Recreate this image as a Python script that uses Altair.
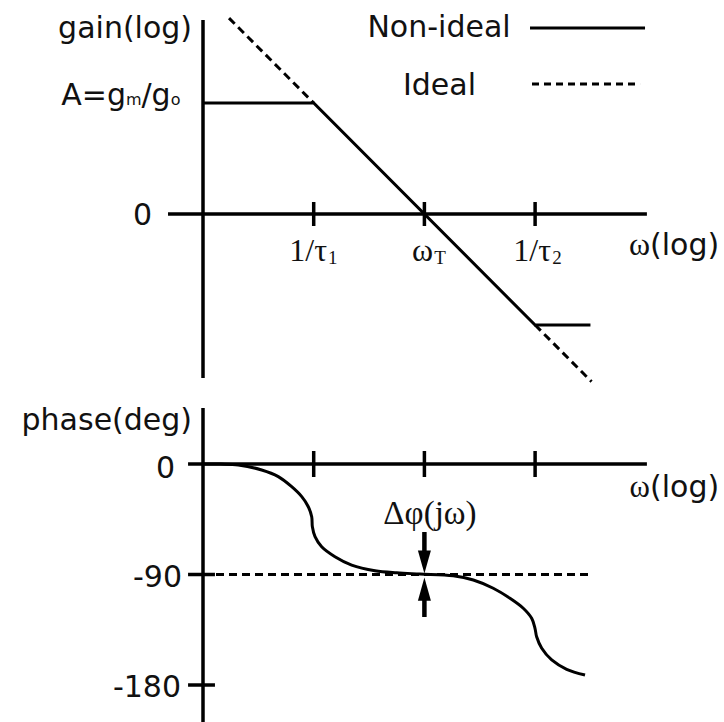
import altair as alt
import pandas as pd

# ---- data ---------------------------------------------------------------
# frequency axis in decades of omega: 1/tau1, omega_T, 1/tau2
tick_pos = [1, 2, 3]

# gain (log units): non-ideal amplifier asymptotes
gain_nonideal_w = [0, 1, 3, 3.5]
gain_nonideal_g = [1, 1, -1, -1]
# ideal integrator (-1 slope) shown dashed outside the non-ideal corners
gain_ideal_w = [0.235, 1, 3, 3.51]
gain_ideal_g = [1.765, 1, -1, -1.51]
gain_ideal_seg = ["lo", "lo", "hi", "hi"]

# phase (deg) of the non-ideal amplifier
phase_w = [0, 0.16, 0.319, 0.53, 0.68, 0.801, 0.892, 0.951, 0.982, 0.988,
           1.012, 1.072, 1.192, 1.343, 1.554, 1.75, 1.96, 2.261, 2.442, 2.622,
           2.773, 2.893, 2.969, 2.999, 3.014, 3.06, 3.15, 3.285, 3.451]
phase_deg = [0, -0.1, -0.8, -4.9, -10.3, -18.5, -26.6, -34.8, -42.9, -51.1,
             -59.2, -67.4, -75.5, -82.3, -86.9, -88.6, -89.6, -91.0, -94.5,
             -101.2, -109.4, -117.5, -125.7, -133.8, -140.7, -150.1, -159.6,
             -167.2, -171.9]
# ideal phase
ideal_phase = -90
ideal_phase_w = [0, 3.48]

# phase-error arrows at omega_T: tail, neck, tip (deg)
arrow_tail = [-55.4, -124.6]
arrow_neck = [-74.9, -106.7]
arrow_tip = [-89.2, -92.5]

# ---- scales -------------------------------------------------------------
INK = "#111111"
SANS = "DejaVu Sans"
SERIF = "Liberation Serif"
W = 724
H_TOP, H_BOT = 390, 332
XDOM = [-1.8338, 4.7064]
GDOM = [-1.5856, 1.9279]
PDOM = [-210.13, 60.27]


def X(field="u"):
    return alt.X(f"{field}:Q", scale=alt.Scale(domain=XDOM, nice=False, zero=False), axis=None)


def Y(dom, field="v"):
    return alt.Y(f"{field}:Q", scale=alt.Scale(domain=dom, nice=False, zero=False), axis=None)


def rules(rows, dom, width=3.5, dash=None):
    df = pd.DataFrame(rows, columns=["u", "u2", "v", "v2"])
    kw = dict(color="black", strokeWidth=width, strokeCap="butt")
    if dash:
        kw["strokeDash"] = dash
    return alt.Chart(df).mark_rule(**kw).encode(
        x=X(), x2="u2:Q", y=Y(dom), y2="v2:Q")


def texts(rows, dom, font, size, align):
    df = pd.DataFrame(rows, columns=["u", "v", "t"])
    return alt.Chart(df).mark_text(
        font=font, fontSize=size, align=align, baseline="alphabetic", color=INK
    ).encode(x=X(), y=Y(dom), text="t:N")


# ---- gain panel ---------------------------------------------------------
g_axes = rules([(0, 0, -1.477, 1.748), (-0.316, 4.01, 0, 0)], GDOM)
g_ticks = rules([(t, t, -0.108, 0.108) for t in tick_pos], GDOM)

g_real = alt.Chart(pd.DataFrame({"u": gain_nonideal_w, "v": gain_nonideal_g})).mark_line(
    color="black", strokeWidth=3).encode(x=X(), y=Y(GDOM))
g_ideal = alt.Chart(pd.DataFrame({"u": gain_ideal_w, "v": gain_ideal_g, "s": gain_ideal_seg})).mark_line(
    color="black", strokeWidth=3, strokeDash=[8, 5]).encode(x=X(), y=Y(GDOM), detail="s:N")

leg_solid = rules([(2.954, 3.993, 1.676, 1.676)], GDOM, width=3)
leg_dash = rules([(2.972, 3.948, 1.171, 1.171)], GDOM, width=3, dash=[7, 5])

# "A=g_m/g_o" is assembled from normal and small pieces
g_sans_r = texts([(-0.099, 1.586, "gain(log)"), (-0.461, -0.099, "0"),
                  (-0.696, 0.982, "A=g")], GDOM, SANS, 30, "right")
g_sans_l = texts([(-0.556, 0.982, "/g"), (4.038, -0.369, "(log)")],
                 GDOM, SANS, 30, "left")
g_sub_sans = texts([(-0.696, 0.982, "m"), (-0.292, 0.982, "o")], GDOM, SANS, 16, "left")
g_legend = texts([(2.132, 1.595, "Non-ideal"), (2.136, 1.072, "Ideal")], GDOM, SANS, 30, "center")
g_tick_main = texts([(1.12, -0.423, "1/τ"), (2.078, -0.423, "ω"), (3.144, -0.423, "1/τ"),
                     (4.038, -0.369, "ω")], GDOM, SERIF, 32, "right")
g_tick_sub = texts([(1.13, -0.45, "1"), (2.088, -0.45, "T"), (3.154, -0.45, "2")],
                   GDOM, SERIF, 19, "left")

top = alt.layer(
    g_axes, g_ticks, g_real, g_ideal, leg_solid, leg_dash,
    g_sans_r, g_sans_l, g_sub_sans, g_legend, g_tick_main, g_tick_sub,
).properties(width=W, height=H_TOP)

# ---- phase panel --------------------------------------------------------
p_axes = rules([(0, 0, -210.13, 45.6), (-0.135, 4.01, 0, 0)], PDOM)
p_xticks = rules([(t, t, -10.6, 10.6) for t in tick_pos], PDOM)
p_yticks = rules([(-0.135, 0.108, d, d) for d in (-90, -180)], PDOM)

p_ideal = rules([(ideal_phase_w[0], ideal_phase_w[1], ideal_phase, ideal_phase)], PDOM,
                width=3, dash=[8, 5])
p_real = alt.Chart(pd.DataFrame({"u": phase_w, "v": phase_deg})).mark_line(
    color="black", strokeWidth=3, interpolate="catmull-rom").encode(x=X(), y=Y(PDOM))

arrows = pd.DataFrame({"u": [2, 2], "tail": arrow_tail, "neck": arrow_neck,
                       "tip": arrow_tip, "dir": ["down", "up"]})
p_shafts = alt.Chart(arrows).mark_rule(color="black", strokeWidth=4.5, strokeCap="butt").encode(
    x=X(), y=Y(PDOM, "tail"), y2="neck:Q")
head_down = alt.Chart(arrows[arrows.dir == "down"]).mark_point(
    shape="M-0.52,-1.85L0.52,-1.85L0,0Z", size=625, filled=True, opacity=1,
    color="black", strokeWidth=0).encode(x=X(), y=Y(PDOM, "tip"))
head_up = alt.Chart(arrows[arrows.dir == "up"]).mark_point(
    shape="M-0.52,1.85L0.52,1.85L0,0Z", size=625, filled=True, opacity=1,
    color="black", strokeWidth=0).encode(x=X(), y=Y(PDOM, "tip"))

p_sans_r = texts([(-0.099, 27.7, "phase(deg)"), (-0.253, -11.4, "0"),
                  (-0.19, -100.2, "-90"), (-0.199, -189.8, "-180")], PDOM, SANS, 30, "right")
p_sans_l = texts([(4.038, -26.9, "(log)")], PDOM, SANS, 30, "left")
p_serif_r = texts([(4.038, -26.9, "ω")], PDOM, SERIF, 31, "right")
p_delta = texts([(2.05, -48.9, "Δφ(jω)")], PDOM, SERIF, 33, "center")

bottom = alt.layer(
    p_axes, p_xticks, p_yticks, p_ideal, p_real, p_shafts, head_down, head_up,
    p_sans_r, p_sans_l, p_serif_r, p_delta,
).properties(width=W, height=H_BOT)

chart = alt.VConcatChart(
    vconcat=[top, bottom], spacing=0, bounds="flush", padding=0, background="white",
).configure_view(stroke=None)

chart.save("out.html", embed_options={"renderer": "svg", "actions": False})
